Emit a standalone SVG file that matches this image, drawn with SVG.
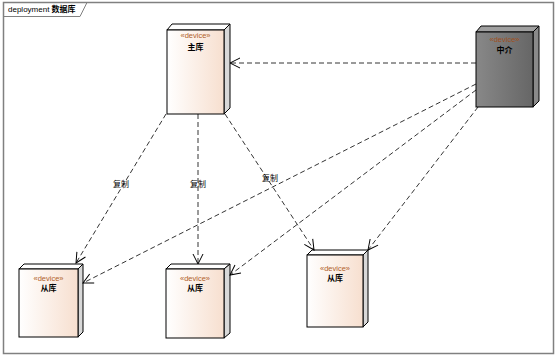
<svg xmlns="http://www.w3.org/2000/svg" width="560" height="358" viewBox="0 0 560 358">
<defs>
<linearGradient id="gLight" x1="0" y1="0" x2="1" y2="0">
<stop offset="0" stop-color="#ffffff"/>
<stop offset="1" stop-color="#f7dfcf"/>
</linearGradient>
<linearGradient id="gDark" x1="0" y1="0" x2="1" y2="0">
<stop offset="0" stop-color="#888888"/>
<stop offset="1" stop-color="#666666"/>
</linearGradient>
<marker id="arr" viewBox="0 0 12 12" refX="11" refY="6" markerWidth="12" markerHeight="12" markerUnits="userSpaceOnUse" orient="auto">
<path d="M1,1 L11,6 L1,11" fill="none" stroke="#000" stroke-width="1"/>
</marker>
</defs>
<style>
.frame{fill:#fff;stroke:#808080;stroke-width:1.5}
.face{stroke:#000;stroke-width:1}
.top{fill:#ffffff;stroke:#000;stroke-width:1}
.side{fill:#d8d8d8;stroke:#000;stroke-width:1}
.st{font-family:"Liberation Sans",Arial,sans-serif;font-size:7.5px;fill:#b0602a;text-anchor:middle}
.nm{font-family:"Liberation Sans","Noto Sans CJK SC",sans-serif;font-size:8px;font-weight:bold;fill:#000;text-anchor:middle}
.lbl{font-family:"Liberation Sans","Noto Sans CJK SC",sans-serif;font-size:8px;fill:#000;text-anchor:middle}
.edge{fill:none;stroke:#000;stroke-width:0.8;stroke-dasharray:5,3;marker-end:url(#arr)}
</style>
<rect x="0" y="0" width="560" height="358" fill="#fff"/>
<rect class="frame" x="3.5" y="2.5" width="550" height="351"/>
<path d="M3.5,16.5 L80,16.5 L87,2.5" fill="none" stroke="#808080" stroke-width="1"/>
<text x="8" y="12" font-family="Liberation Sans,'Noto Sans CJK SC',sans-serif" font-size="8" fill="#000">deployment <tspan font-weight="bold">数据库</tspan></text>

<g id="master">
<polygon class="top" points="167,30 172,24 230,24 224,30"/>
<polygon class="side" points="224,30 230,24 230,108 224,114"/>
<rect class="face" x="167" y="30" width="57" height="84" fill="url(#gLight)"/>
<text class="st" x="195.5" y="38">«device»</text>
<text class="nm" x="195.5" y="50">主库</text>
</g>

<g id="mediator">
<polygon points="476,32 481,26 539,26 533,32" fill="#a0a0a0" stroke="#000" stroke-width="1"/>
<polygon points="533,32 539,26 539,101 533,107" fill="#8a8a8a" stroke="#000" stroke-width="1"/>
<rect class="face" x="476" y="32" width="57" height="75" fill="url(#gDark)"/>
<text class="st" x="504.5" y="42" style="fill:#a05020">«device»</text>
<text class="nm" x="504.5" y="53">中介</text>
</g>

<g id="slave1">
<polygon class="top" points="19,269 24,264 83,264 78,269"/>
<polygon class="side" points="78,269 83,264 83,332 78,337"/>
<rect class="face" x="19" y="269" width="59" height="68" fill="url(#gLight)"/>
<text class="st" x="48.5" y="281">«device»</text>
<text class="nm" x="48.5" y="291">从库</text>
</g>

<g id="slave2">
<polygon class="top" points="166,269 171,264 230,264 224,269"/>
<polygon class="side" points="224,269 230,264 230,333 224,338"/>
<rect class="face" x="166" y="269" width="58" height="69" fill="url(#gLight)"/>
<text class="st" x="195" y="281">«device»</text>
<text class="nm" x="195" y="291">从库</text>
</g>

<g id="slave3">
<polygon class="top" points="307,255 312,250 368,250 363,255"/>
<polygon class="side" points="363,255 368,250 368,322 363,327"/>
<rect class="face" x="307" y="255" width="56" height="72" fill="url(#gLight)"/>
<text class="st" x="335" y="271">«device»</text>
<text class="nm" x="335" y="281">从库</text>
</g>

<g id="connectors">
<line class="edge" x1="476" y1="63" x2="230" y2="63"/>
<line class="edge" x1="166" y1="114" x2="76" y2="263"/>
<line class="edge" x1="198" y1="114" x2="198" y2="264"/>
<line class="edge" x1="225" y1="114" x2="314" y2="250"/>
<line class="edge" x1="476" y1="84" x2="83" y2="283"/>
<line class="edge" x1="476" y1="90" x2="230" y2="275"/>
<line class="edge" x1="478" y1="107" x2="368" y2="250"/>
<text class="lbl" x="121" y="187">复制</text>
<text class="lbl" x="198" y="187">复制</text>
<text class="lbl" x="270" y="181">复制</text>
</g>
</svg>
